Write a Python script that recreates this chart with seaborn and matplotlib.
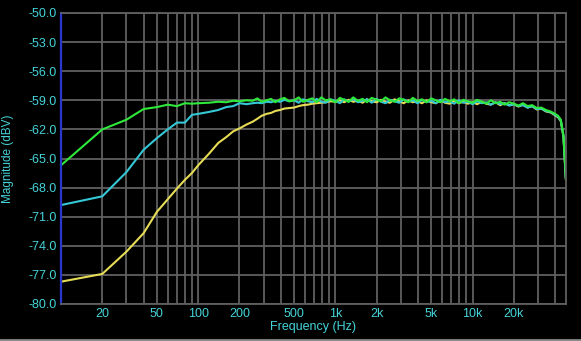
import numpy as np
import pandas as pd
import matplotlib
matplotlib.use("Agg")
import matplotlib.pyplot as plt
import seaborn as sns

# ---------------- data ----------------
freq = [10, 20, 30, 40, 50, 60, 70, 80, 90, 100, 120, 140, 160, 180, 200, 225,
        250, 270, 290, 315, 340, 365, 395, 425, 460,
        500, 540, 580, 630, 680, 730, 790, 850, 920,
        1000, 1080, 1160, 1250, 1350, 1460, 1580, 1700, 1840,
        2000, 2150, 2320, 2500, 2700, 2920, 3150, 3400, 3670, 3960,
        4280, 4620,
        5000, 5400, 5830, 6300, 6800, 7340, 7930, 8560, 9250,
        10000, 10800, 11700, 12600, 13600, 14700, 15900, 17100, 18500,
        20000, 21600, 23300, 25200, 27200, 29400, 31700, 34300, 37000,
        40000, 42000, 44000, 46000, 47900]

green = [-65.7, -62.0, -61.0, -59.9, -59.7, -59.45, -59.6, -59.3, -59.35, -59.3, -59.25, -59.15, -59.2, -59.05, -59.1, -59.0,
         -59.05, -58.8, -59.15, -59.0, -58.85, -59.2, -58.9, -58.75, -59.1,
         -59.0, -58.7, -59.15, -58.95, -58.8, -59.2, -58.7, -59.0, -58.9,
         -59.2, -58.75, -58.95, -59.15, -58.7, -59.05, -58.85, -59.2, -58.75,
         -58.95, -59.1, -58.7, -59.0, -59.15, -58.8, -58.95, -59.2, -58.75, -59.05,
         -58.9, -59.2,
         -58.8, -59.0, -59.2, -58.85, -59.1, -58.9, -59.3, -58.95, -59.1,
         -59.25, -58.95, -59.15, -59.35, -59.0, -59.3, -59.15, -59.45, -59.2,
         -59.35, -59.55, -59.3, -59.6, -59.5, -59.8, -59.75, -60.0, -60.15,
         -60.4, -60.6, -61.0, -62.6, -67.0]

cyan = [-69.8, -68.9, -66.4, -64.1, -62.9, -62.0, -61.3, -61.3, -60.5, -60.4, -60.2, -60.0, -59.7, -59.6, -59.3, -59.4,
        -59.3, -59.25, -59.3, -59.15, -59.2, -59.05, -59.15, -58.95, -59.1,
        -59.0, -59.25, -58.9, -59.1, -59.2, -58.85, -59.15, -59.25, -58.9,
        -59.05, -59.3, -58.9, -59.15, -58.85, -59.2, -59.05, -58.9, -59.25,
        -58.85, -59.15, -59.3, -58.95, -59.1, -59.25, -58.9, -59.15, -59.0, -59.3,
        -58.95, -59.2,
        -59.05, -59.3, -58.95, -59.2, -59.1, -59.35, -59.0, -59.25, -59.15,
        -59.4, -59.1, -59.3, -59.2, -59.45, -59.2, -59.4, -59.3, -59.55,
        -59.4, -59.6, -59.5, -59.75, -59.6, -59.9, -59.85, -60.1, -60.2,
        -60.5, -60.7, -61.1, -62.7, -67.1]

yellow = [-77.7, -76.9, -74.6, -72.7, -70.5, -69.2, -68.1, -67.2, -66.5, -65.7, -64.5, -63.4, -62.8, -62.2, -61.9, -61.5,
          -61.2, -60.9, -60.6, -60.4, -60.3, -60.1, -60.0, -59.85, -59.8,
          -59.75, -59.6, -59.5, -59.45, -59.35, -59.3, -59.25, -59.2, -59.1,
          -59.15, -59.0, -59.2, -58.95, -59.15, -59.05, -59.25, -58.9, -59.1,
          -59.2, -58.95, -59.15, -59.25, -58.9, -59.1, -59.3, -59.0, -59.2, -59.1,
          -59.3, -59.0,
          -59.2, -59.3, -59.0, -59.25, -59.35, -59.05, -59.3, -59.15, -59.35,
          -59.2, -59.4, -59.15, -59.35, -59.45, -59.2, -59.5, -59.3, -59.5,
          -59.4, -59.65, -59.45, -59.75, -59.6, -59.95, -59.85, -60.15, -60.25,
          -60.55, -60.75, -61.15, -62.8, -67.2]

series_names = ["yellow", "cyan", "green"]
series_colors = ["#e6dc55", "#35c8d6", "#2ee83a"]

y_ticks = [-80.0, -77.0, -74.0, -71.0, -68.0, -65.0, -62.0, -59.0, -56.0, -53.0, -50.0]
x_ticks = [20, 50, 100, 200, 500, 1000, 2000, 5000, 10000, 20000]
x_tick_labels = ["20", "50", "100", "200", "500", "1k", "2k", "5k", "10k", "20k"]

df = pd.concat([
    pd.DataFrame({"freq": freq, "mag": yellow, "series": "yellow"}),
    pd.DataFrame({"freq": freq, "mag": cyan, "series": "cyan"}),
    pd.DataFrame({"freq": freq, "mag": green, "series": "green"}),
], ignore_index=True)

# ---------------- style ----------------
sns.set_style("dark", {"axes.facecolor": "black", "figure.facecolor": "black"})
plt.rcParams["font.family"] = ["Liberation Sans", "DejaVu Sans"]

label_color = "#45d3d8"
grid_color = "#606060"

fig = plt.figure(figsize=(5.81, 3.41), dpi=100)
fig.patch.set_facecolor("black")
ax = fig.add_axes([61 / 581, 1 - 304 / 341, 505 / 581, 291 / 341])
ax.set_facecolor("black")

sns.lineplot(data=df, x="freq", y="mag", hue="series", hue_order=series_names,
             palette=dict(zip(series_names, series_colors)), legend=False,
             linewidth=1.5, ax=ax, sort=True, estimator=None)

ax.set_xscale("log")
ax.set_xlim(10, 48000)
ax.set_ylim(-80, -50)

ax.set_yticks(y_ticks)
ax.set_yticklabels([f"{v:.1f}" for v in y_ticks])
ax.set_xticks(x_ticks)
ax.set_xticklabels(x_tick_labels)
minor = [m * 10 ** e for e in range(1, 5) for m in range(1, 10)]
minor = [v for v in minor if 10 < v < 48000 and v not in x_ticks]
ax.set_xticks(minor, minor=True)
ax.xaxis.set_minor_formatter(matplotlib.ticker.NullFormatter())

ax.grid(True, which="both", axis="x", color=grid_color, linewidth=1.3)
ax.grid(True, which="major", axis="y", color=grid_color, linewidth=1.3)
ax.set_axisbelow(True)

ax.tick_params(axis="both", which="both", length=0, labelsize=9,
               labelcolor=label_color, pad=3)

for side in ["top", "right", "bottom"]:
    ax.spines[side].set_visible(True)
    ax.spines[side].set_color(grid_color)
    ax.spines[side].set_linewidth(1.3)
ax.spines["left"].set_visible(True)
ax.spines["left"].set_color("#2a36d0")
ax.spines["left"].set_linewidth(1.6)

ax.set_xlabel("Frequency (Hz)", color=label_color, fontsize=9)
ax.set_ylabel("Magnitude (dBV)", color=label_color, fontsize=8.5)
ax.xaxis.set_label_coords(0.5, -(321 - 304) / 291)
ax.xaxis.label.set_va("top")
ax.yaxis.set_label_coords((14 - 61) / 505, 0.5)

# window frame edge at the bottom of the screenshot
fig.add_artist(plt.Line2D([0, 1], [1.5 / 341, 1.5 / 341], color="#8a8a8a",
                          linewidth=2, transform=fig.transFigure))

fig.savefig("out.png", dpi=100, facecolor="black")
